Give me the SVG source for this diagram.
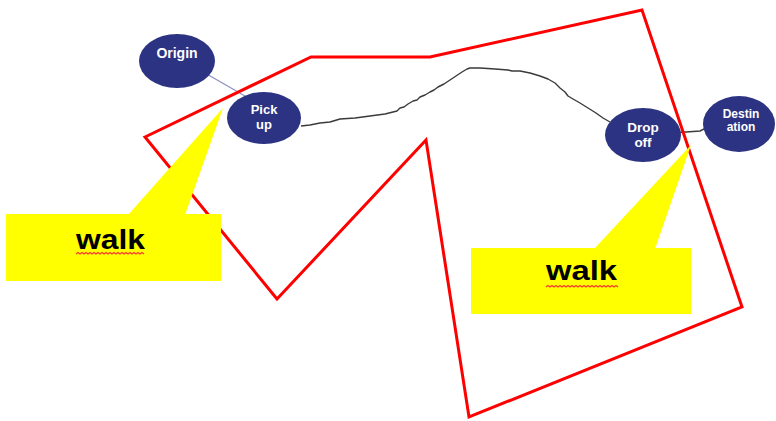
<svg xmlns="http://www.w3.org/2000/svg" width="776" height="421" viewBox="0 0 776 421">
  <style>
    .stop { fill: #2c3382; }
    .lbl { fill: #ffffff; font-family: "Liberation Sans", Arial, sans-serif; font-weight: bold; text-anchor: middle; }
    .zone { fill: none; stroke: #ff0000; stroke-width: 3; stroke-linejoin: miter; }
    .callout { fill: #ffff00; }
    .walk { fill: #000000; font-family: "Liberation Sans", Arial, sans-serif; font-weight: bold; font-size: 27px; }
    .squiggle { fill: none; stroke: #ff3b2f; stroke-width: 1.2; }
  </style>

  <!-- connectors between stops -->
  <g id="connectors">
    <line x1="205" y1="73" x2="257" y2="103" stroke="#8a8cc0" stroke-width="1.2"/>
    <polyline fill="none" stroke="#3a3a3a" stroke-width="1.4" stroke-linejoin="round"
      points="301,126 310,125 320,123 330,122 340,119 355,118 370,116 385,114 397,111 400,108 404,107 408,104 413,101 417,100 420,97 425,95 430,92 434,90 438,87 444,84 450,80 456,76 462,72 467,69 470,68 480,68 495,69 508,70 512,71 520,71 530,73 540,76 548,79 555,83 560,88 565,92 568,96 573,99 580,103 588,108 596,113 603,118 610,122"/>
    <polyline fill="none" stroke="#3a3a3a" stroke-width="1.4" points="672,133 686,132 700,131 706,128 713,128"/>
  </g>

  <g id="origin">
    <ellipse class="stop" cx="177" cy="61" rx="38" ry="27"/>
    <text class="lbl" x="177" y="58" font-size="14">Origin</text>
  </g>

  <g id="pickup">
    <ellipse class="stop" cx="264" cy="118" rx="37" ry="26"/>
    <text class="lbl" x="264" y="114" font-size="13">Pick</text>
    <text class="lbl" x="264" y="129" font-size="13">up</text>
  </g>

  <g id="dropoff">
    <ellipse class="stop" cx="643" cy="135" rx="38" ry="27"/>
    <text class="lbl" x="643" y="132" font-size="13.5">Drop</text>
    <text class="lbl" x="643" y="147" font-size="13.5">off</text>
  </g>

  <g id="destination">
    <ellipse class="stop" cx="739" cy="124" rx="36" ry="28"/>
    <text class="lbl" x="741" y="118" font-size="12">Destin</text>
    <text class="lbl" x="741" y="131" font-size="12">ation</text>
  </g>

  <!-- service zone boundary -->
  <polygon id="zone" class="zone" points="145,137 311,57 430,57 642,10 742,307 469,417 426,140 277,299"/>

  <g id="walk-origin">
    <polygon class="callout" points="223,108 185,215 128,215"/>
    <rect class="callout" x="6" y="214" width="215" height="67"/>
    <text class="walk" x="76" y="249" textLength="69" lengthAdjust="spacingAndGlyphs">walk</text>
    <path class="squiggle" d="M76,254 l2,-1.5 l2,1.5 l2,-1.5 l2,1.5 l2,-1.5 l2,1.5 l2,-1.5 l2,1.5 l2,-1.5 l2,1.5 l2,-1.5 l2,1.5 l2,-1.5 l2,1.5 l2,-1.5 l2,1.5 l2,-1.5 l2,1.5 l2,-1.5 l2,1.5 l2,-1.5 l2,1.5 l2,-1.5 l2,1.5 l2,-1.5 l2,1.5 l2,-1.5 l2,1.5 l2,-1.5 l2,1.5 l2,-1.5 l2,1.5 l2,-1.5 l2,1.5"/>
  </g>

  <g id="walk-destination">
    <polygon class="callout" points="691,145 655,249 594,249"/>
    <rect class="callout" x="471" y="248" width="220" height="66"/>
    <text class="walk" x="546" y="280" textLength="71" lengthAdjust="spacingAndGlyphs">walk</text>
    <path class="squiggle" d="M546,287 l2,-1.5 l2,1.5 l2,-1.5 l2,1.5 l2,-1.5 l2,1.5 l2,-1.5 l2,1.5 l2,-1.5 l2,1.5 l2,-1.5 l2,1.5 l2,-1.5 l2,1.5 l2,-1.5 l2,1.5 l2,-1.5 l2,1.5 l2,-1.5 l2,1.5 l2,-1.5 l2,1.5 l2,-1.5 l2,1.5 l2,-1.5 l2,1.5 l2,-1.5 l2,1.5 l2,-1.5 l2,1.5 l2,-1.5 l2,1.5 l2,-1.5 l2,1.5 l2,-1.5 l2,1.5"/>
  </g>
</svg>
